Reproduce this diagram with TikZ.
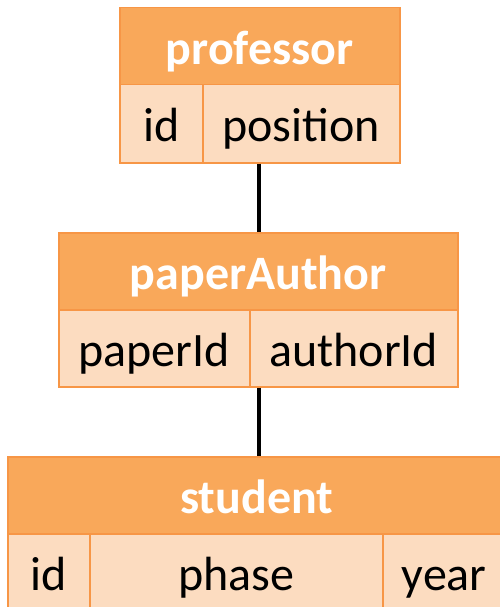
\documentclass[tikz,border=0pt]{standalone}
\usepackage{fontspec}
\setmainfont{Carlito}
\definecolor{hdrfill}{HTML}{F9A85A}
\definecolor{rowfill}{HTML}{FCDCC0}
\definecolor{edge}{HTML}{F79646}
\begin{document}
\begin{tikzpicture}[x=1pt,y=-1pt,
  cell/.style={draw=edge,line width=1.5pt,inner sep=0pt,anchor=north west,text height=57pt,text depth=20pt,font=\fontsize{48}{50}\selectfont},
  hdr/.style={cell,fill=hdrfill,text=white,font=\fontsize{48}{50}\selectfont\bfseries},
  row/.style={cell,fill=rowfill,text=black},
  conn/.style={draw=black,line width=4.5pt}]
\clip (0,0) rectangle (500,607);
\useasboundingbox (0,0) rectangle (500,607);
\fill[white] (0,0) rectangle (500,607);
% professor
\node[hdr,minimum width=280pt,minimum height=77pt] (profhdr) at (119,7) {professor};
\node[row,minimum width=83pt,minimum height=78pt,text depth=21pt] (profid) at (119,84) {id};
\node[row,minimum width=197pt,minimum height=78pt,text depth=21pt] (profpos) at (202,84) {position};
% paperAuthor
\node[hdr,minimum width=399pt,minimum height=77pt] (pahdr) at (58,232) {paperAuthor};
\node[row,minimum width=191pt,minimum height=77pt] (papid) at (58,309) {paperId};
\node[row,minimum width=208pt,minimum height=77pt] (paaid) at (249,309) {authorId};
% student
\node[hdr,minimum width=498pt,minimum height=77pt] (sthdr) at (7,456) {student};
\node[row,minimum width=82pt,minimum height=80pt,text depth=23pt] (stid) at (7,533) {id};
\node[row,minimum width=293pt,minimum height=80pt,text depth=23pt] (stphase) at (89,533) {phase};
\node[row,minimum width=123pt,minimum height=80pt,text depth=23pt] (styear) at (382,533) {year};
% connectors
\draw[conn] ([xshift=-1pt]profhdr.center |- profpos.south) -- ([xshift=0.5pt]pahdr.north);
\draw[conn] ([xshift=0.5pt]pahdr.center |- paaid.south) -- ([xshift=0.5pt]sthdr.north -| pahdr.center);
\end{tikzpicture}
\end{document}
